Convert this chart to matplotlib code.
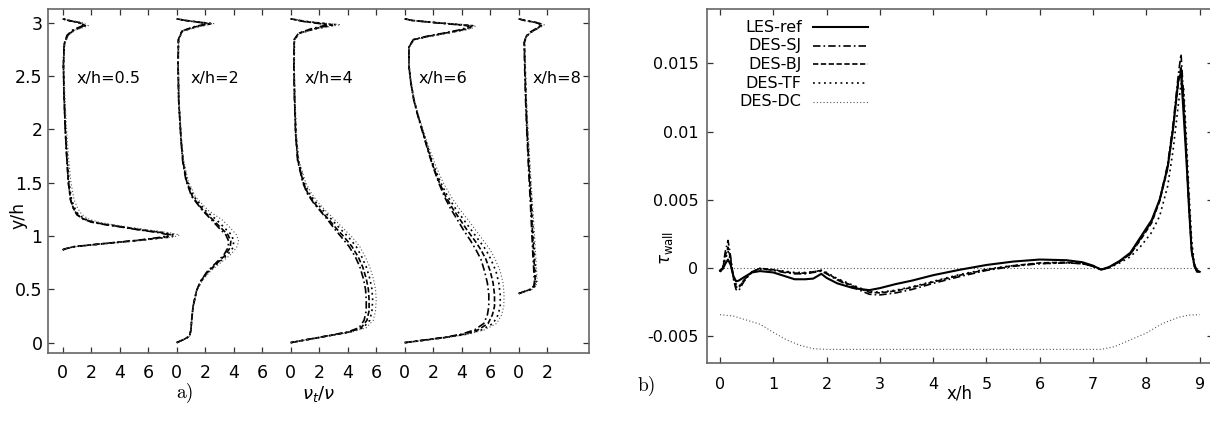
import numpy as np
import matplotlib
matplotlib.use("Agg")
import matplotlib.pyplot as plt

plt.rcParams['font.family'] = ['DejaVu Sans']
plt.rcParams['mathtext.fontset'] = 'dejavusans'

# ---------------- a) eddy viscosity profiles ----------------
stations = ["x/h=0.5", "x/h=2", "x/h=4", "x/h=6", "x/h=8"]
station_offset = [0, 8, 16, 24, 32]

y05 = [0.87, 0.88, 0.90, 0.93, 0.96, 0.99, 1.01, 1.03, 1.06, 1.09, 1.11, 1.13, 1.16, 1.20,
       1.26, 1.34, 1.50, 1.75, 2.00, 2.30, 2.60, 2.80, 2.88, 2.93, 2.97, 3.00, 3.02, 3.035]
nut05_sj = [0.0, 0.2, 0.8, 3.0, 5.3, 7.0, 7.4, 6.8, 5.2, 3.8, 2.8, 2.0, 1.4, 1.0,
            0.75, 0.55, 0.40, 0.28, 0.18, 0.10, 0.05, 0.10, 0.30, 0.70, 1.40, 1.10, 0.40, 0.0]
nut05_bj = [0.0, 0.2, 0.8, 3.0, 5.4, 7.3, 7.6, 7.0, 5.3, 3.9, 2.9, 2.1, 1.45, 1.0,
            0.75, 0.55, 0.40, 0.28, 0.18, 0.10, 0.05, 0.12, 0.35, 0.80, 1.60, 1.20, 0.40, 0.0]
nut05_tf = [0.0, 0.2, 0.9, 3.1, 5.5, 7.6, 7.9, 7.2, 5.5, 4.0, 3.0, 2.2, 1.55, 1.1,
            0.85, 0.62, 0.45, 0.30, 0.20, 0.11, 0.06, 0.12, 0.35, 0.80, 1.50, 1.20, 0.40, 0.0]
nut05_dc = [0.0, 0.2, 0.9, 3.2, 5.6, 7.8, 8.2, 7.5, 5.8, 4.3, 3.3, 2.5, 1.8, 1.35,
            1.05, 0.80, 0.58, 0.40, 0.27, 0.16, 0.08, 0.14, 0.40, 0.90, 1.80, 1.40, 0.50, 0.0]

y2 = [0.0, 0.03, 0.06, 0.12, 0.21, 0.34, 0.49, 0.58, 0.66, 0.74, 0.82, 0.89, 0.95, 1.01, 1.07,
      1.15, 1.24, 1.37, 1.52, 1.70, 1.90, 2.27, 2.60, 2.84, 2.92, 2.96, 2.99, 3.02, 3.035]
nut2_sj = [0.0, 0.5, 0.9, 1.0, 1.05, 1.15, 1.4, 1.7, 2.1, 2.7, 3.3, 3.6, 3.65, 3.45, 3.0,
           2.45, 1.8, 1.05, 0.65, 0.42, 0.30, 0.14, 0.10, 0.12, 0.35, 1.2, 2.2, 0.6, 0.0]
nut2_bj = [0.0, 0.5, 0.9, 1.0, 1.05, 1.15, 1.4, 1.7, 2.15, 2.8, 3.4, 3.75, 3.8, 3.6, 3.15,
           2.55, 1.85, 1.1, 0.68, 0.44, 0.31, 0.14, 0.10, 0.12, 0.38, 1.3, 2.4, 0.6, 0.0]
nut2_tf = [0.0, 0.5, 0.9, 1.0, 1.05, 1.15, 1.4, 1.75, 2.2, 2.85, 3.55, 3.95, 4.0, 3.85, 3.4,
           2.8, 2.0, 1.2, 0.72, 0.46, 0.32, 0.15, 0.10, 0.13, 0.40, 1.4, 2.5, 0.6, 0.0]
nut2_dc = [0.0, 0.5, 0.9, 1.0, 1.05, 1.15, 1.4, 1.8, 2.3, 3.0, 3.75, 4.2, 4.35, 4.2, 3.8,
           3.2, 2.2, 1.3, 0.80, 0.50, 0.34, 0.16, 0.11, 0.14, 0.45, 1.5, 2.6, 0.6, 0.0]

y4 = [0.0, 0.02, 0.04, 0.07, 0.10, 0.14, 0.21, 0.30, 0.40, 0.50, 0.60, 0.71, 0.80, 0.90, 0.99, 1.07,
      1.15, 1.23, 1.31, 1.40, 1.50, 1.71, 1.96, 2.30, 2.59, 2.84, 2.90, 2.94, 2.98, 3.01, 3.035]
nut4_sj = [0.0, 0.8, 1.6, 2.8, 4.0, 4.8, 5.15, 5.3, 5.3, 5.25, 5.1, 4.85, 4.55, 4.1, 3.55, 3.05,
           2.6, 2.1, 1.6, 1.15, 0.85, 0.48, 0.34, 0.26, 0.22, 0.24, 0.55, 1.4, 2.6, 0.9, 0.0]
nut4_bj = [0.0, 0.8, 1.65, 2.9, 4.1, 4.95, 5.35, 5.5, 5.5, 5.45, 5.3, 5.05, 4.75, 4.3, 3.75, 3.2,
           2.7, 2.15, 1.65, 1.2, 0.88, 0.5, 0.35, 0.27, 0.23, 0.25, 0.6, 1.6, 2.9, 1.0, 0.0]
nut4_tf = [0.0, 0.8, 1.65, 2.9, 4.2, 5.1, 5.55, 5.7, 5.75, 5.7, 5.55, 5.3, 5.0, 4.6, 4.05, 3.45,
           2.9, 2.35, 1.8, 1.3, 0.95, 0.53, 0.37, 0.28, 0.24, 0.26, 0.62, 1.7, 3.2, 1.1, 0.0]
nut4_dc = [0.0, 0.8, 1.7, 3.0, 4.3, 5.3, 5.8, 5.95, 6.0, 5.95, 5.8, 5.55, 5.25, 4.85, 4.3, 3.7,
           3.1, 2.5, 1.95, 1.45, 1.05, 0.58, 0.40, 0.30, 0.25, 0.27, 0.65, 1.8, 3.5, 1.2, 0.0]

y6 = [0.0, 0.02, 0.05, 0.08, 0.12, 0.18, 0.26, 0.34, 0.45, 0.56, 0.67, 0.78, 0.87, 0.96, 1.05, 1.15,
      1.26, 1.37, 1.50, 1.65, 1.80, 1.96, 2.12, 2.27, 2.45, 2.59, 2.77, 2.84, 2.87, 2.90, 2.93, 2.95,
      2.97, 3.00, 3.02, 3.035]
nut6_sj = [0.0, 1.1, 2.8, 4.0, 4.9, 5.55, 5.8, 5.9, 5.9, 5.8, 5.6, 5.35, 5.0, 4.6, 4.15, 3.7,
           3.2, 2.78, 2.38, 1.98, 1.63, 1.28, 0.93, 0.64, 0.41, 0.30, 0.29, 0.6, 1.5, 2.7, 3.8, 4.3,
           4.5, 2.0, 0.5, 0.0]
nut6_bj = [0.0, 1.2, 2.9, 4.2, 5.15, 5.85, 6.15, 6.3, 6.3, 6.2, 6.0, 5.7, 5.35, 4.9, 4.4, 3.9,
           3.35, 2.88, 2.43, 2.0, 1.65, 1.3, 0.95, 0.65, 0.42, 0.30, 0.30, 0.62, 1.6, 2.8, 4.0, 4.5,
           4.7, 2.1, 0.5, 0.0]
nut6_tf = [0.0, 1.2, 3.0, 4.35, 5.4, 6.2, 6.55, 6.7, 6.7, 6.6, 6.4, 6.05, 5.7, 5.2, 4.7, 4.15,
           3.55, 3.02, 2.52, 2.06, 1.68, 1.32, 0.96, 0.66, 0.42, 0.30, 0.30, 0.64, 1.65, 2.9, 4.1, 4.6,
           4.85, 2.2, 0.5, 0.0]
nut6_dc = [0.0, 1.3, 3.1, 4.5, 5.6, 6.45, 6.8, 6.95, 6.97, 6.9, 6.7, 6.35, 6.0, 5.5, 5.0, 4.45,
           3.8, 3.25, 2.7, 2.2, 1.78, 1.38, 1.0, 0.68, 0.43, 0.31, 0.31, 0.66, 1.7, 3.0, 4.3, 4.8,
           5.0, 2.3, 0.5, 0.0]

y8 = [0.46, 0.48, 0.50, 0.53, 0.57, 0.62, 0.80, 1.02, 1.30, 1.65, 2.00, 2.27, 2.55, 2.81,
      2.87, 2.91, 2.95, 2.98, 3.00, 3.02, 3.035]
nut8_sj = [0.0, 0.4, 0.8, 1.05, 1.1, 1.08, 1.0, 0.92, 0.82, 0.68, 0.56, 0.48, 0.42, 0.38,
           0.5, 0.8, 1.3, 1.6, 1.2, 0.4, 0.0]
nut8_bj = [0.0, 0.42, 0.85, 1.1, 1.16, 1.14, 1.06, 0.97, 0.86, 0.71, 0.58, 0.5, 0.44, 0.39,
           0.52, 0.85, 1.35, 1.65, 1.25, 0.4, 0.0]
nut8_tf = [0.0, 0.43, 0.9, 1.15, 1.22, 1.2, 1.12, 1.03, 0.91, 0.75, 0.61, 0.52, 0.46, 0.4,
           0.53, 0.87, 1.4, 1.7, 1.3, 0.45, 0.0]
nut8_dc = [0.0, 0.45, 0.95, 1.2, 1.3, 1.28, 1.2, 1.1, 0.97, 0.8, 0.65, 0.55, 0.48, 0.42,
           0.55, 0.9, 1.45, 1.8, 1.35, 0.45, 0.0]

profiles = [
    (y05, nut05_sj, nut05_bj, nut05_tf, nut05_dc),
    (y2, nut2_sj, nut2_bj, nut2_tf, nut2_dc),
    (y4, nut4_sj, nut4_bj, nut4_tf, nut4_dc),
    (y6, nut6_sj, nut6_bj, nut6_tf, nut6_dc),
    (y8, nut8_sj, nut8_bj, nut8_tf, nut8_dc),
]

# ---------------- b) wall shear stress ----------------
xw = [0.0, 0.05, 0.1, 0.15, 0.2, 0.25, 0.3, 0.35, 0.45, 0.6, 0.75, 1.0, 1.2, 1.4, 1.6, 1.75,
      1.9, 2.0, 2.2, 2.5, 2.8, 3.0, 3.3, 3.6, 4.0, 4.5, 5.0, 5.5, 6.0, 6.5, 6.8, 7.0, 7.15,
      7.3, 7.5, 7.7, 7.9, 8.1, 8.25, 8.4, 8.5, 8.6, 8.65, 8.7, 8.75, 8.8, 8.85, 8.9, 8.95, 9.0]
tau_les = [-0.2, -0.1, 0.3, 0.6, 0.2, -0.6, -1.0, -0.95, -0.7, -0.35, -0.25, -0.35, -0.6, -0.85,
           -0.85, -0.8, -0.45, -0.75, -1.15, -1.5, -1.65, -1.5, -1.2, -0.95, -0.55, -0.15, 0.2,
           0.45, 0.6, 0.55, 0.4, 0.15, -0.15, 0.05, 0.5, 1.1, 2.3, 3.5, 5.0, 7.4, 10.2, 13.8,
           14.3, 11.2, 8.0, 4.4, 1.2, 0.2, -0.2, -0.3]
tau_sj = [-0.3, 0.0, 1.2, 2.0, 0.8, -0.8, -1.6, -1.7, -1.0, -0.3, -0.05, -0.2, -0.35, -0.45,
          -0.45, -0.35, -0.25, -0.45, -0.9, -1.45, -1.95, -2.0, -1.85, -1.6, -1.15, -0.65, -0.2,
          0.1, 0.3, 0.35, 0.3, 0.1, -0.15, 0.0, 0.45, 1.0, 2.2, 3.4, 5.0, 7.6, 10.5, 14.2,
          15.7, 12.5, 8.5, 4.5, 1.2, 0.1, -0.3, -0.3]
tau_bj = [-0.3, -0.05, 0.9, 1.5, 0.6, -0.7, -1.4, -1.5, -0.9, -0.3, -0.05, -0.15, -0.3, -0.4,
          -0.4, -0.3, -0.2, -0.4, -0.85, -1.35, -1.8, -1.85, -1.7, -1.45, -1.05, -0.55, -0.15,
          0.15, 0.35, 0.4, 0.3, 0.1, -0.12, 0.02, 0.45, 1.0, 2.1, 3.3, 4.9, 7.3, 10.2, 13.6,
          14.8, 12.2, 8.3, 4.5, 1.3, 0.1, -0.3, -0.3]
tau_tf = [-0.3, -0.1, 0.6, 1.2, 0.5, -0.6, -1.2, -1.4, -0.9, -0.35, -0.1, -0.15, -0.25, -0.35,
          -0.35, -0.3, -0.2, -0.35, -0.8, -1.3, -1.75, -1.8, -1.65, -1.4, -1.0, -0.5, -0.1,
          0.15, 0.3, 0.35, 0.3, 0.1, -0.12, 0.0, 0.35, 0.8, 1.6, 2.6, 3.8, 6.0, 8.6, 12.0,
          13.5, 13.2, 9.5, 5.5, 2.0, 0.3, -0.2, -0.3]
xdc = [0.0, 0.25, 0.5, 0.75, 1.0, 1.25, 1.5, 1.75, 2.0, 7.15, 7.4, 7.7, 8.0, 8.3, 8.6, 8.8, 9.0]
tau_dc = [-3.45, -3.55, -3.85, -4.15, -4.75, -5.3, -5.7, -5.95, -6.0, -6.0, -5.8, -5.3, -4.8,
          -4.1, -3.65, -3.48, -3.45]
tau_scale = 1e-3

models = ["LES-ref", "DES-SJ", "DES-BJ", "DES-TF", "DES-DC"]
styles = {
    "LES-ref": dict(color="black", lw=1.5, ls="-"),
    "DES-SJ": dict(color="black", lw=1.2, ls=(0, (4.5, 1.8, 1, 1.8))),
    "DES-BJ": dict(color="black", lw=1.2, ls=(0, (3.2, 1.5))),
    "DES-TF": dict(color="black", lw=1.2, ls=(0, (1.1, 2.2))),
    "DES-DC": dict(color="#555555", lw=0.8, ls=(0, (1.0, 2.0))),
}

W, H = 1210, 434
fig = plt.figure(figsize=(W / 100, H / 100), dpi=100)

spine_col = "#666666"


def style_axes(ax, fs, xpad, ypad):
    for s in ax.spines.values():
        s.set_color(spine_col)
        s.set_linewidth(1.2)
    ax.tick_params(direction="in", length=4.5, width=0.9, color="#333333",
                   top=True, right=True, labelsize=fs)
    ax.tick_params(axis="x", pad=xpad)
    ax.tick_params(axis="y", pad=ypad)


# left panel
ax1 = fig.add_axes([48 / W, 1 - 353 / H, (589 - 48) / W, (353 - 9) / H])
for (yy, sj, bj, tf, dc), off in zip(profiles, station_offset):
    for vals, m in zip((sj, bj, tf, dc), models[1:]):
        ax1.plot(np.array(vals) + off, yy, **styles[m])
for name, off in zip(stations, station_offset):
    ax1.text(off + 1.0, 2.48, name, ha="left", va="center", fontsize=11.5)
ax1.set_xlim(-1.03, 36.93)
ax1.set_ylim(-0.097, 3.127)
xt = np.arange(0, 35, 2)
ax1.set_xticks(xt)
ax1.set_xticklabels([str(t % 8) for t in xt])
ax1.set_yticks([0, 0.5, 1, 1.5, 2, 2.5, 3])
ax1.set_yticklabels(["0", "0.5", "1", "1.5", "2", "2.5", "3"])
style_axes(ax1, 12.5, 8, 4)
ax1.set_xlabel(r"$\nu_t/\nu$", fontsize=13)
ax1.set_ylabel("y/h", fontsize=12.5)
ax1.yaxis.set_label_coords(-0.037, 0.40)
ax1.xaxis.set_label_coords(0.5, -0.09)

# right panel
ax2 = fig.add_axes([706.7 / W, 1 - 363 / H, (1213 - 706.7) / W, (363 - 9) / H])
ax2.plot([xw[0], xw[-1]], [0.0, 0.0], **styles["DES-DC"])
ax2.plot(xdc, np.array(tau_dc) * tau_scale, **styles["DES-DC"])
ax2.plot(xw, np.array(tau_tf) * tau_scale, **styles["DES-TF"])
ax2.plot(xw, np.array(tau_bj) * tau_scale, **styles["DES-BJ"])
ax2.plot(xw, np.array(tau_sj) * tau_scale, **styles["DES-SJ"])
ax2.plot(xw, np.array(tau_les) * tau_scale, **styles["LES-ref"])
ax2.set_xlim(-0.25, 9.25)
ax2.set_ylim(-0.007, 0.019)
ax2.set_xticks(range(10))
ax2.set_yticks([-0.005, 0, 0.005, 0.01, 0.015])
ax2.set_yticklabels(["-0.005", "0", "0.005", "0.01", "0.015"])
style_axes(ax2, 11.5, 10, 6)
ax2.set_xlabel("x/h", fontsize=12)
ax2.xaxis.set_label_coords(0.5, -0.062)
ax2.set_ylabel(r"$\tau_{\rm wall}$", fontsize=12)
ax2.yaxis.set_label_coords(-0.063, 0.325)

# key, gnuplot style: right-aligned names with line samples after them
for i, m in enumerate(models):
    yk = 0.949 - i * 0.0528
    ax2.text(0.1876, yk, m, transform=ax2.transAxes, ha="right", va="center", fontsize=11.5)
    ax2.plot([0.21, 0.3186], [yk, yk], transform=ax2.transAxes, **styles[m])

fig.text(185 / W, 1 - 393 / H, "a)", family="cmr10", fontsize=14, ha="center", va="center")
fig.text(647 / W, 1 - 386 / H, "b)", family="cmr10", fontsize=14, ha="center", va="center")

fig.savefig("out.png", dpi=100)
